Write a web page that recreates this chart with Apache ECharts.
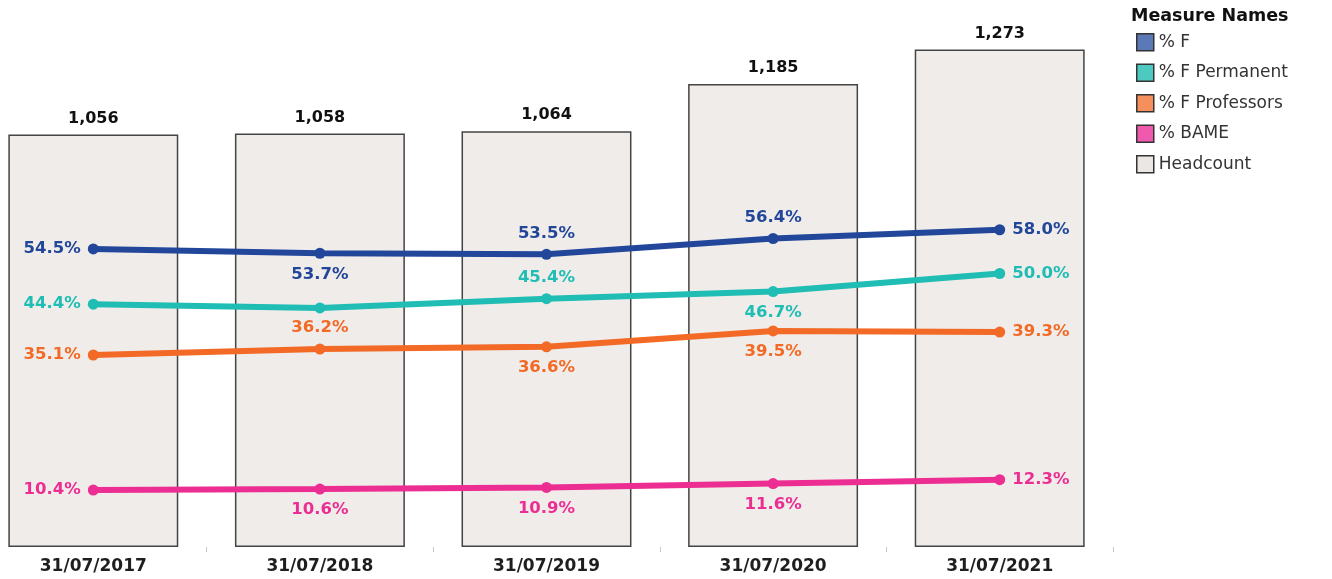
<!DOCTYPE html>
<html>
<head>
<meta charset="utf-8">
<script src="https://cdn.jsdelivr.net/npm/echarts@6/dist/echarts.min.js"></script>
<style>
  html, body { margin: 0; padding: 0; background: #fff; overflow: hidden; }
  /* the first band is clipped by the left edge in the original, so the chart starts 20px off-screen */
  #chart { width: 1352px; height: 579px; margin-left: -20px; }
</style>
</head>
<body>
<div id="chart"></div>
<script>
// data
const categories = ["31/07/2017", "31/07/2018", "31/07/2019", "31/07/2020", "31/07/2021"];
const headcount = [1056, 1058, 1064, 1185, 1273];
const pctF = [54.5, 53.7, 53.5, 56.4, 58.0];
const pctFPermanent = [44.4, 43.7, 45.4, 46.7, 50.0];
const pctFProfessors = [35.1, 36.2, 36.6, 39.5, 39.3];
const pctBame = [10.4, 10.6, 10.9, 11.6, 12.3];

// where each point label sits (null = hidden)
const posF = ["left", "bottom", "top", "top", "right"];
const posPerm = ["left", null, "top", "bottom", "right"];
const posProf = ["left", "top", "bottom", "bottom", "right"];
const posBame = ["left", "bottom", "bottom", "bottom", "right"];

const FONT = "DejaVu Sans";
const chart = echarts.init(document.getElementById("chart"));

function lineSeries(name, values, positions, color) {
  return {
    name: name,
    type: "line",
    yAxisIndex: 1,
    symbol: "circle",
    symbolSize: 11,
    z: 5,
    lineStyle: { width: 6, color: color },
    itemStyle: { color: color },
    data: values.map((v, i) => ({
      value: v,
      label: positions[i] ? { show: true, position: positions[i] } : { show: false },
    })),
    label: {
      distance: 7,
      color: color,
      fontFamily: FONT,
      fontWeight: "bold",
      fontSize: 16.5,
      formatter: (p) => p.value.toFixed(1) + "%",
    },
  };
}

const option = {
  animation: false,
  grid: { left: 0, right: 219, top: 0, bottom: 32 },
  xAxis: {
    type: "category",
    data: categories,
    axisLine: { show: false },
    axisTick: { show: true, length: 5, lineStyle: { color: "#c8c8c8" } },
    axisLabel: {
      margin: 11,
      color: "#1e1e1e",
      fontFamily: FONT,
      fontWeight: "bold",
      fontSize: 17,
    },
  },
  yAxis: [
    { type: "value", min: 0, max: 1400, show: false, splitLine: { show: false } },
    { type: "value", min: 0, max: 100, show: false, splitLine: { show: false } },
  ],
  legend: {
    orient: "vertical",
    left: 1151,
    top: 28,
    icon: "rect",
    itemWidth: 17,
    itemHeight: 17,
    itemGap: 12,
    textStyle: { color: "#333", fontFamily: FONT, fontSize: 17 },
    data: [
      { name: "% F", itemStyle: { color: "#5b79b6", borderColor: "#333", borderWidth: 1.5 } },
      { name: "% F Permanent", itemStyle: { color: "#4ccac2", borderColor: "#333", borderWidth: 1.5 } },
      { name: "% F Professors", itemStyle: { color: "#f58f5c", borderColor: "#333", borderWidth: 1.5 } },
      { name: "% BAME", itemStyle: { color: "#ef5aae", borderColor: "#333", borderWidth: 1.5 } },
      { name: "Headcount", itemStyle: { color: "#ebe7e4", borderColor: "#333", borderWidth: 1.5 } },
    ],
  },
  graphic: [
    {
      type: "text",
      left: 1151,
      top: 7,
      style: { text: "Measure Names", fill: "#111", font: "bold 17.5px " + FONT },
    },
  ],
  series: [
    {
      name: "Headcount",
      type: "bar",
      yAxisIndex: 0,
      barCategoryGap: "25%",
      z: 1,
      itemStyle: { color: "#f0ecea", borderColor: "#444", borderWidth: 1.5 },
      label: {
        show: true,
        position: "top",
        distance: 8,
        color: "#111",
        fontFamily: FONT,
        fontWeight: "bold",
        fontSize: 16,
        formatter: (p) => p.value.toLocaleString("en-US"),
      },
      data: headcount,
    },
    lineSeries("% F", pctF, posF, "#22479a"),
    lineSeries("% F Permanent", pctFPermanent, posPerm, "#1fbdb3"),
    lineSeries("% F Professors", pctFProfessors, posProf, "#f26a26"),
    lineSeries("% BAME", pctBame, posBame, "#ec2d92"),
  ],
};

chart.setOption(option);
</script>
</body>
</html>
